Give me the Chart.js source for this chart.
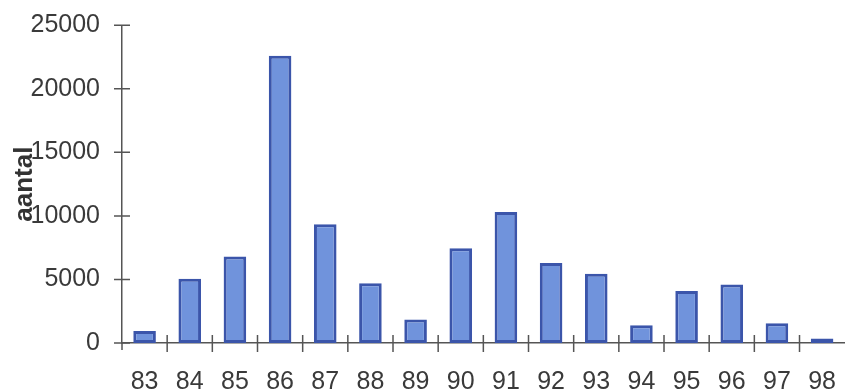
<!DOCTYPE html>
<html>
<head>
<meta charset="utf-8">
<title>aantal per jaar</title>
<script src="https://cdn.jsdelivr.net/npm/chart.js@4/dist/chart.umd.min.js"></script>
<style>
  html, body { margin: 0; padding: 0; background: #fff; overflow: hidden; }
  canvas { display: block; }
</style>
</head>
<body>
<canvas id="aantalChart" width="852" height="391"></canvas>
<script>
// jaren (19xx) en aantallen
const years = ["83", "84", "85", "86", "87", "88", "89", "90", "91", "92", "93", "94", "95", "96", "97", "98"];
const counts = [950, 5050, 6800, 22600, 9350, 4700, 1850, 7450, 10300, 6300, 5450, 1400, 4100, 4600, 1550, 350];
const yTicks = [0, 5000, 10000, 15000, 20000, 25000];

const axisColor = "#555555";

// tick marks that cross the axis line on both sides
const crossTicks = {
  id: "crossTicks",
  afterDraw(chart) {
    const ctx = chart.ctx;
    const x = chart.scales.x;
    const y = chart.scales.y;
    ctx.save();
    ctx.strokeStyle = axisColor;
    ctx.lineWidth = 1.5;
    ctx.beginPath();
    yTicks.forEach(v => {
      const py = y.getPixelForValue(v);
      ctx.moveTo(x.left - 8, py);
      ctx.lineTo(x.left + 8, py);
    });
    for (let i = 1; i < years.length; i++) {
      const px = (x.getPixelForValue(i - 1) + x.getPixelForValue(i)) / 2;
      ctx.moveTo(px, y.bottom - 8);
      ctx.lineTo(px, y.bottom + 9);
    }
    // y axis runs a little below the zero line
    ctx.moveTo(x.left, y.bottom);
    ctx.lineTo(x.left, y.bottom + 7);
    ctx.stroke();
    ctx.restore();
  }
};

new Chart(document.getElementById("aantalChart").getContext("2d"), {
  type: "bar",
  data: {
    labels: years,
    datasets: [{
      data: counts,
      backgroundColor: "#7093dc",
      borderColor: "#3b55aa",
      borderWidth: 3,
      borderSkipped: false,
      categoryPercentage: 1,
      barPercentage: 0.5
    }]
  },
  options: {
    responsive: false,
    animation: false,
    layout: { padding: { top: 0, left: 0, right: 0, bottom: 0 } },
    plugins: {
      legend: { display: false },
      tooltip: { enabled: false }
    },
    scales: {
      x: {
        grid: { display: false },
        border: { display: true, color: axisColor, width: 1.5 },
        ticks: {
          color: "#3a3a3a",
          padding: 16,
          font: { family: "Liberation Sans", size: 25 }
        },
        afterFit(scale) { scale.height = 48; }
      },
      y: {
        min: 0,
        max: 25000,
        grid: { display: false },
        border: { display: true, color: axisColor, width: 1.5 },
        afterBuildTicks(scale) { scale.ticks = yTicks.map(v => ({ value: v })); },
        ticks: {
          color: "#3a3a3a",
          padding: 14,
          font: { family: "Liberation Sans", size: 25, lineHeight: 0.9 },
          callback: v => String(v)
        },
        title: {
          display: true,
          text: "aantal",
          color: "#333333",
          padding: { top: 9 },
          font: { family: "Liberation Sans", size: 26, weight: "bold" }
        },
        afterFit(scale) { scale.width = 122; }
      }
    }
  },
  plugins: [crossTicks]
});
</script>
</body>
</html>
